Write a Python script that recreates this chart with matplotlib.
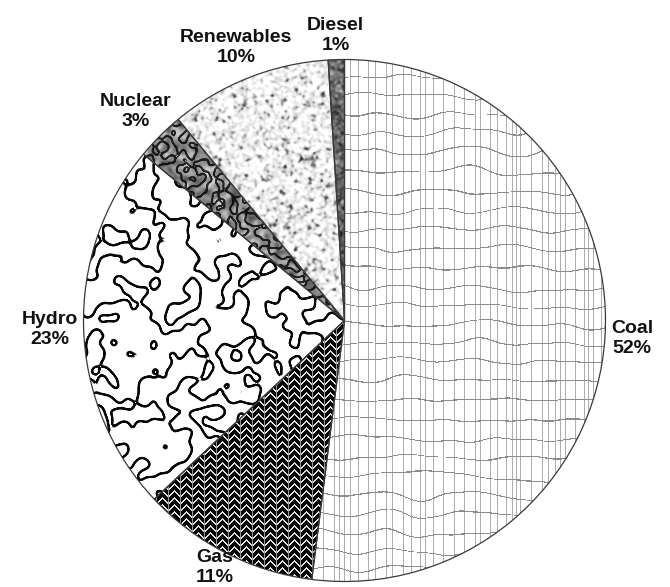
import numpy as np
import matplotlib
matplotlib.use("Agg")
import matplotlib.pyplot as plt

# data
sources = ["Coal", "Gas", "Hydro", "Nuclear", "Renewables", "Diesel"]
shares = [52, 11, 23, 3, 10, 1]

W, H = 670, 587
cx, cy = 344.5, H - 320.5
R = 261

rng = np.random.default_rng(11)
yy, xx = np.mgrid[0:H, 0:W]
fy = np.fft.fftfreq(H)[:, None]
fx = np.fft.fftfreq(W)[None, :]


def smooth_noise(s):
    # gaussian filtered white noise, normalised
    a = rng.standard_normal((H, W))
    k = np.exp(-2 * (np.pi * s) ** 2 * (fx ** 2 + fy ** 2))
    out = np.real(np.fft.ifft2(np.fft.fft2(a) * k))
    return (out - out.mean()) / out.std()


def contour_lines(f, width):
    gy, gx = np.gradient(f)
    d = np.abs(f) / (np.hypot(gx, gy) + 1e-6)
    return np.clip(1 - (d - width / 2) / 0.7, 0, 1)


# coal: light vertical lines + wavy horizontal courses
coal = np.ones((H, W))
xs = np.cumsum(rng.integers(4, 12, size=W // 4))
xs = xs[xs < W]
coal[:, xs] = 0.68
wob = 2.5 * smooth_noise(12)
coal[((yy + wob) % 19) < 1.1] = 0.55

# gas: herringbone, chevrons pointing up
u = xx % 12
v = yy + np.where(u < 6, u, 12 - u) * 0.85
gas = np.where((v % 7) < 4.9, 0.02, 0.88)
gas[u == 0] = 0.6

# hydro: black squiggles on white
hydro = 1 - 0.97 * contour_lines(smooth_noise(4.8), 2.0)

# nuclear: dark bubbly grey
nuc = (0.55 + 0.1 * smooth_noise(2)) * (1 - 0.8 * contour_lines(smooth_noise(2.6), 1.8))

# renewables: soft light mottling
f = smooth_noise(1.3)
ren = 0.93 - 0.08 * f - 0.2 * np.clip(f - 1.0, 0, 2)

# diesel: mid grey
dsl = 0.4 + 0.1 * smooth_noise(1.2)

textures = [coal, gas, hydro, nuc, ren, dsl]

fig = plt.figure(figsize=(6.7, 5.87), dpi=100)
ax = fig.add_axes([0, 0, 1, 1])
wedges, _ = ax.pie(shares, startangle=90, counterclock=False, radius=R,
                   center=(cx, cy),
                   wedgeprops=dict(facecolor="none", edgecolor="#3a3a3a",
                                   linewidth=0.9))

for w, tex in zip(wedges, textures):
    im = ax.imshow(np.clip(tex, 0, 1), cmap="gray", vmin=0, vmax=1,
                   extent=(0, W, 0, H), origin="upper",
                   interpolation="nearest", zorder=0)
    im.set_clip_path(w)

ax.set_xlim(0, W)
ax.set_ylim(0, H)
ax.axis("off")

renderer = fig.canvas.get_renderer()
gap = 6
for w, name, s in zip(wedges, sources, shares):
    mid = np.deg2rad((w.theta1 + w.theta2) / 2)
    dx, dy = np.cos(mid), np.sin(mid)
    t = ax.text(0, 0, f"{name}\n{s}%", ha="center", va="center",
                fontsize=14, fontweight="bold", color="#111111",
                family=["Liberation Sans", "DejaVu Sans"])
    bb = t.get_window_extent(renderer)
    hw, hh = bb.width / 2, bb.height / 2
    d = R + gap + np.hypot(dx * hw, dy * hh)
    px = np.clip(cx + d * dx, hw + 1, W - hw - 1)
    py = np.clip(cy + d * dy, hh + 1, H - hh - 1)
    t.set_position((px, py))

fig.savefig("out.png", dpi=100)
